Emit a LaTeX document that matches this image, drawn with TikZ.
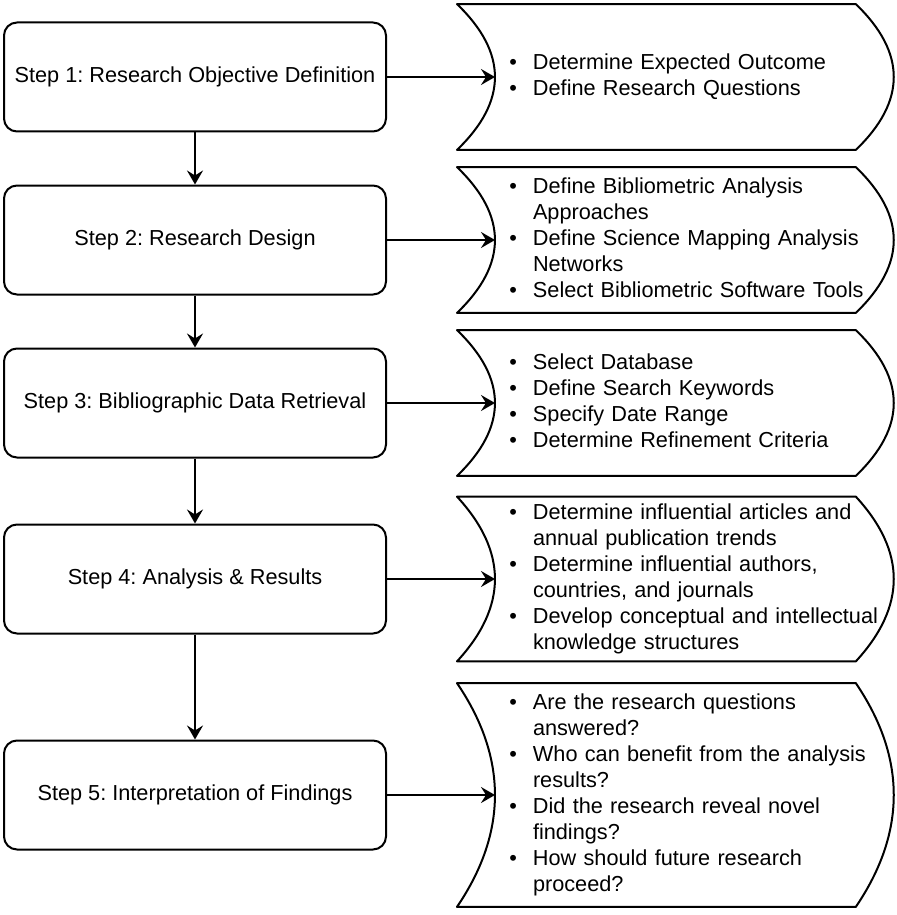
\documentclass[tikz,border=0pt]{standalone}
\usepackage{fontspec}
\setmainfont{Liberation Sans}
\usetikzlibrary{positioning,calc,arrows.meta}
\frenchspacing

\begin{document}
\begin{tikzpicture}[x=1pt,y=1pt]
      \tikzset{
        every node/.style={font=\fontsize{10.85}{13}\selectfont},
        stepbox/.style={draw,line width=1pt,rounded corners=6.5pt,minimum width=191pt,minimum height=54.5pt},
        outcome/.style={inner xsep=7pt,inner ysep=0pt,text width=185pt,align=left},
        link/.style={-{Stealth[length=7pt,width=8pt,inset=2.5pt]},line width=1pt},
        outline/.style={line width=1pt,line join=round}
      }
      \useasboundingbox (0,0) rectangle (448,-457.5);

      \node[stepbox] at (97.5,-38.5) (s1) {Step 1: Research Objective Definition};
      \node[stepbox,below=26pt of s1] (s2) {Step 2: Research Design};
      \node[stepbox,below=26pt of s2] (s3) {Step 3: Bibliographic Data Retrieval};
      \node[stepbox,below=32.5pt of s3] (s4) {Step 4: Analysis \& Results};
      \node[stepbox,below=52.5pt of s4] (s5) {Step 5: Interpretation of Findings};

      \node[outcome,minimum height=72.5pt,right=54pt of s1] (o1) {\begin{tabular}{@{}l@{\hspace{8pt}}l@{}}
        \textbullet & Determine Expected Outcome\\
        \textbullet & Define Research Questions
      \end{tabular}};
      \node[outcome,minimum height=72.5pt,right=54pt of s2] (o2) {\begin{tabular}{@{}l@{\hspace{8pt}}l@{}}
        \textbullet & Define Bibliometric Analysis\\
                    & Approaches\\
        \textbullet & Define Science Mapping Analysis\\
                    & Networks\\
        \textbullet & Select Bibliometric Software Tools
      \end{tabular}};
      \node[outcome,minimum height=72.5pt,right=54pt of s3] (o3) {\begin{tabular}{@{}l@{\hspace{8pt}}l@{}}
        \textbullet & Select Database\\
        \textbullet & Define Search Keywords\\
        \textbullet & Specify Date Range\\
        \textbullet & Determine Refinement Criteria
      \end{tabular}};
      \node[outcome,minimum height=82pt,right=54pt of s4] (o4) {\begin{tabular}{@{}l@{\hspace{8pt}}l@{}}
        \textbullet & Determine influential articles and\\
                    & annual publication trends\\
        \textbullet & Determine influential authors,\\
                    & countries, and journals\\
        \textbullet & Develop conceptual and intellectual\\
                    & knowledge structures
      \end{tabular}};
      \node[outcome,minimum height=111.5pt,right=54pt of s5] (o5) {\begin{tabular}{@{}l@{\hspace{8pt}}l@{}}
        \textbullet & Are the research questions\\
                    & answered?\\
        \textbullet & Who can benefit from the analysis\\
                    & results?\\
        \textbullet & Did the research reveal novel\\
                    & findings?\\
        \textbullet & How should future research\\
                    & proceed?
      \end{tabular}};

      \foreach \o in {o1,o2,o3,o4,o5}
        \draw[outline] ([xshift=-19pt]\o.north west) -- ([xshift=-19pt]\o.north east)
          .. controls ($(\o.north east)!1/3!(\o.south east)+(6.3pt,0)$)
          and ($(\o.north east)!2/3!(\o.south east)+(6.3pt,0)$) .. ([xshift=-19pt]\o.south east)
          -- ([xshift=-19pt]\o.south west)
          .. controls ($(\o.north west)!2/3!(\o.south west)+(6.3pt,0)$)
          and ($(\o.north west)!1/3!(\o.south west)+(6.3pt,0)$) .. ([xshift=-19pt]\o.north west)
          -- cycle;

      \draw[link] (s1) -- (s2);
      \draw[link] (s2) -- (s3);
      \draw[link] (s3) -- (s4);
      \draw[link] (s4) -- (s5);
      \foreach \i in {1,...,5}
        \draw[link] (s\i) -- (o\i);
    \end{tikzpicture}
\end{document}
